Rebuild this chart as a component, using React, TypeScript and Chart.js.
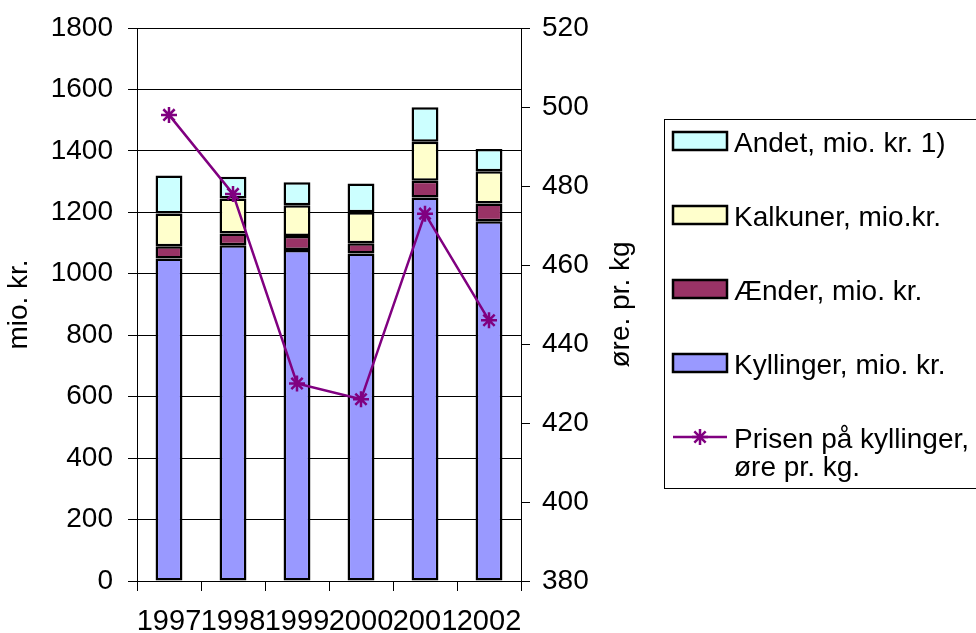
import React, { useEffect, useRef } from 'react';
import { Chart, registerables } from 'chart.js';

Chart.register(...registerables);

const categories = ['1997', '1998', '1999', '2000', '2001', '2002'];
const kyllinger = [1050, 1093, 1077, 1066, 1248, 1171];
const aender = [40, 38, 46, 33, 55, 58];
const kalkuner = [106, 114, 100, 101, 127, 105];
const andet = [124, 71, 75, 94, 112, 72];
const prisen = [498, 478, 430, 426, 473, 446];

const FONT = "Arial, 'Liberation Sans', sans-serif";
const FS = 28;

const C_KYL = '#9999FF';
const C_AEN = '#993366';
const C_KAL = '#FFFFCC';
const C_AND = '#CCFFFF';
const C_LINE = '#800080';

const legendEntries = [
  { lines: ['Andet, mio. kr. 1)'], color: C_AND, kind: 'box' },
  { lines: ['Kalkuner, mio.kr.'], color: C_KAL, kind: 'box' },
  { lines: ['Ænder, mio. kr.'], color: C_AEN, kind: 'box' },
  { lines: ['Kyllinger, mio. kr.'], color: C_KYL, kind: 'box' },
  { lines: ['Prisen på kyllinger,', 'øre pr. kg.'], color: C_LINE, kind: 'line' },
];

const decorPlugin = {
  id: 'decor',
  afterDraw(chart: any) {
    const ctx = chart.ctx as CanvasRenderingContext2D;
    const area = chart.chartArea;
    const midY = (area.top + area.bottom) / 2;
    ctx.save();
    ctx.fillStyle = '#000';
    ctx.font = `${FS}px ${FONT}`;
    ctx.textAlign = 'center';
    ctx.textBaseline = 'middle';
    ctx.save();
    ctx.translate(19, midY);
    ctx.rotate(-Math.PI / 2);
    ctx.fillText('mio. kr.', 0, 0);
    ctx.restore();
    ctx.save();
    ctx.translate(621, midY);
    ctx.rotate(-Math.PI / 2);
    ctx.fillText('øre. pr. kg', 0, 0);
    ctx.restore();

    ctx.strokeStyle = '#000';
    ctx.lineWidth = 1;
    ctx.strokeRect(664.5, 119.5, 316, 369);
    ctx.textAlign = 'left';
    ctx.textBaseline = 'alphabetic';
    legendEntries.forEach((e, i) => {
      const base = 151.5 + i * 74;
      const cy = base - 10.5;
      if (e.kind === 'box') {
        ctx.fillStyle = e.color;
        ctx.fillRect(673, cy - 9, 54, 18);
        ctx.strokeStyle = '#000';
        ctx.lineWidth = 2.5;
        ctx.strokeRect(673, cy - 9, 54, 18);
      } else {
        ctx.strokeStyle = e.color;
        ctx.lineWidth = 2.5;
        ctx.beginPath();
        ctx.moveTo(673, cy);
        ctx.lineTo(727, cy);
        ctx.stroke();
        const r = 8;
        ctx.beginPath();
        for (let k = 0; k < 4; k++) {
          const a = (k * Math.PI) / 4;
          ctx.moveTo(700 - r * Math.cos(a), cy - r * Math.sin(a));
          ctx.lineTo(700 + r * Math.cos(a), cy + r * Math.sin(a));
        }
        ctx.stroke();
      }
      ctx.fillStyle = '#000';
      e.lines.forEach((t, j) => {
        ctx.fillText(t, 734, base + j * 28);
      });
    });
    ctx.restore();
  },
};

export default function App() {
  const ref = useRef<HTMLCanvasElement>(null);
  useEffect(() => {
    document.body.style.margin = '0';
    const canvas = ref.current!;
    const barCommon = {
      type: 'bar' as const,
      borderColor: '#000',
      borderWidth: 2.5,
      borderSkipped: false,
      barPercentage: 0.42,
      categoryPercentage: 1,
      yAxisID: 'y',
      order: 1,
    };
    const plain = (v: any) => String(v);
    const chart = new Chart(canvas, {
      type: 'bar',
      data: {
        labels: categories,
        datasets: [
          { ...barCommon, label: 'Kyllinger, mio. kr.', data: kyllinger, backgroundColor: C_KYL },
          { ...barCommon, label: 'Ænder, mio. kr.', data: aender, backgroundColor: C_AEN },
          { ...barCommon, label: 'Kalkuner, mio.kr.', data: kalkuner, backgroundColor: C_KAL },
          { ...barCommon, label: 'Andet, mio. kr. 1)', data: andet, backgroundColor: C_AND },
          {
            type: 'line' as const,
            label: 'Prisen på kyllinger, øre pr. kg.',
            data: prisen,
            yAxisID: 'y1',
            borderColor: C_LINE,
            borderWidth: 2.5,
            pointStyle: 'star',
            pointRadius: 8,
            pointBorderColor: C_LINE,
            pointBorderWidth: 2.5,
            pointBackgroundColor: C_LINE,
            tension: 0,
            order: 0,
          } as any,
        ],
      },
      options: {
        responsive: false,
        animation: false,
        layout: { padding: { top: 28, left: 0, right: 0, bottom: 0 } },
        plugins: { legend: { display: false }, tooltip: { enabled: false } },
        scales: {
          x: {
            stacked: true,
            offset: true,
            grid: { offset: true, drawOnChartArea: false, tickLength: 10, color: '#000', lineWidth: 1 },
            border: { display: true, color: '#000', width: 1 },
            ticks: {
              autoSkip: false,
              maxRotation: 0,
              minRotation: 0,
              padding: 14,
              color: '#000',
              font: { family: FONT, size: 29 },
            },
            afterFit(scale: any) {
              scale.height = 52;
              scale.paddingLeft = 0;
              scale.paddingRight = 0;
            },
          },
          y: {
            stacked: true,
            position: 'left',
            min: 0,
            max: 1800,
            ticks: { stepSize: 200, padding: 15, color: '#000', font: { family: FONT, size: FS }, callback: plain },
            grid: { drawOnChartArea: true, tickLength: 9, color: '#000', lineWidth: 1 },
            border: { display: true, color: '#000', width: 1 },
            afterFit(scale: any) {
              scale.width = 137;
              scale.paddingTop = 0;
              scale.paddingBottom = 0;
            },
          },
          y1: {
            position: 'right',
            min: 380,
            max: 520,
            ticks: { stepSize: 20, padding: 12, color: '#000', font: { family: FONT, size: FS }, callback: plain },
            grid: { drawOnChartArea: false, tickLength: 9, color: '#000', lineWidth: 1 },
            border: { display: true, color: '#000', width: 1 },
            afterFit(scale: any) {
              scale.width = 455;
              scale.paddingTop = 0;
              scale.paddingBottom = 0;
            },
          },
        },
      } as any,
      plugins: [decorPlugin],
    });
    return () => chart.destroy();
  }, []);
  return <canvas ref={ref} width={976} height={633} style={{ display: 'block' }} />;
}
